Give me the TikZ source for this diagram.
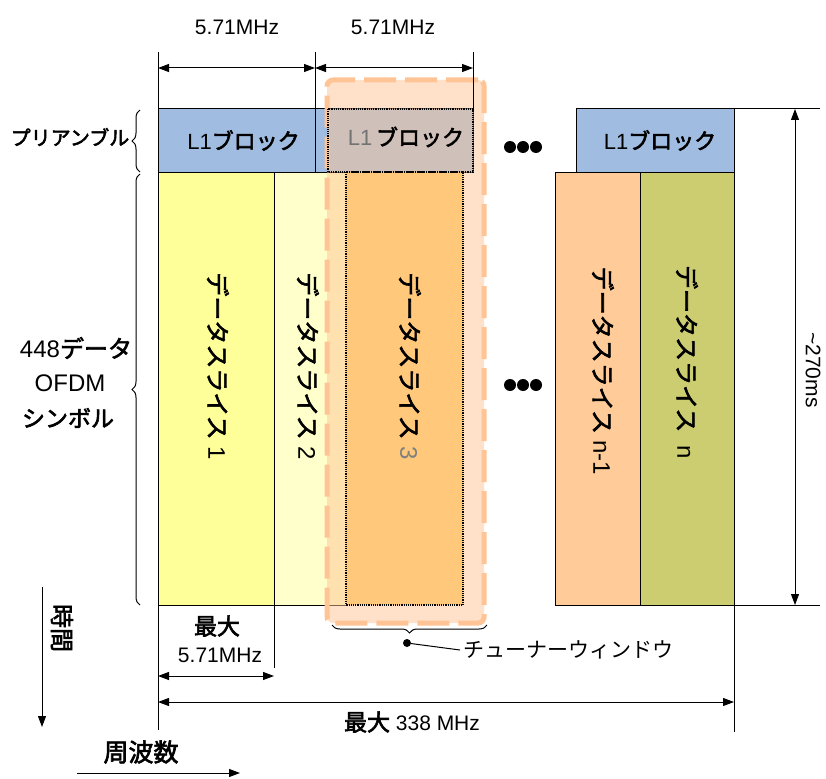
\documentclass[tikz,border=0pt]{standalone}
\usepackage{fontspec}
\setmainfont{Liberation Sans}
\newfontfamily\jp[AutoFakeBold=2.5]{Noto Sans CJK JP}
\usepackage{tikz}
\usetikzlibrary{positioning}
\usetikzlibrary{arrows.meta}
\usetikzlibrary{decorations.pathreplacing}
\definecolor{lblue}{RGB}{160,188,224}
\definecolor{yellowA}{RGB}{255,255,153}
\definecolor{yellowB}{RGB}{255,255,204}
\definecolor{orangeC}{RGB}{255,200,122}
\definecolor{peach}{RGB}{255,204,153}
\definecolor{olive}{RGB}{204,204,112}
\definecolor{tunercol}{RGB}{255,196,150}
\tikzset {
  x=1pt, y=-1pt,
  % plain boxes, placed by their top left corner
  box/.style = {draw, line width=1pt, inner sep=0pt, outer sep=0pt, anchor=north west},
  % L1 blocks in the preamble row
  lblock/.style = {box, fill=lblue, font=\fontsize{22}{22}\selectfont},
  % data slices
  slice/.style = {box, minimum height=433pt},
  % tuner window overlay
  tuner/.style = {box, draw=tunercol, line width=5pt, dash pattern=on 32pt off 9pt,
                  rounded corners=6pt, fill=tunercol, fill opacity=0.5},
  dotline/.style = {line width=1.2pt, densely dotted},
  % rotated slice labels
  vlabel/.style = {rotate=-90, font=\fontsize{24}{24}\selectfont},
  num/.style = {font=\fontsize{21}{21}\selectfont},
  jlabel/.style = {font=\jp\bfseries\fontsize{21}{21}\selectfont},
  guide/.style = {line width=1pt},
  dim/.style = {line width=1pt, {Triangle[length=11pt,width=8pt]}-{Triangle[length=11pt,width=8pt]}},
  onearrow/.style = {line width=1pt, -{Triangle[length=11pt,width=8pt]}},
  brace/.style = {decorate, decoration={brace, amplitude=8pt}, line width=1pt},
}
\begin{document}
\begin{tikzpicture}
      \fill[white] (0,0) rectangle (826,778);
      \useasboundingbox (0,0) rectangle (826,778);

      % data slices
      \node[slice, fill=yellowA, minimum width=116pt] (s1) at (158,172) {};
      \node[slice, fill=yellowB, minimum width=72pt]  (s2) at (274,172) {};
      \node[slice, fill=peach,   minimum width=85pt]  (sn1) at (555,172) {};
      \node[slice, fill=olive,   minimum width=94pt]  (sn) at (640,172) {};

      % preamble row
      \node[lblock, minimum width=157pt, minimum height=63pt] (l1a) at (158,109) {\hspace{14pt}L1{\jp\bfseries ブロック}};
      \node[lblock, minimum width=158pt, minimum height=63pt] (l1b) at (315,109) {};
      \node[lblock, minimum width=158pt, minimum height=63pt] (l1n) at (576,109) {\hspace{10pt}L1{\jp\bfseries ブロック}};

      % tuner window
      \node[tuner, minimum width=157pt, minimum height=543pt] (win) at (327,80) {};
      \node[slice, fill=orangeC, draw=none, minimum width=117pt] (s3) at (346,172) {};
      \draw[dotline] (s3.north west) rectangle (s3.south east);
      \draw[dotline] (328,109) rectangle (l1b.south east);
      \node[font=\fontsize{22}{22}\selectfont] (l1btext) at (406,137) {{\color{black!55}L1}\,{\jp\bfseries ブロック}};

      % slice labels
      \node[vlabel] (t1) at (218,366) {{\jp\bfseries データスライス}\ 1};
      \node[vlabel] (t2) at (308,366) {{\jp\bfseries データスライス}\ 2};
      \node[vlabel] (t3) at (410,366) {{\jp\bfseries データスライス}\ {\color{black!50}3}};
      \node[vlabel] (tn1) at (603,371) {{\jp\bfseries データスライス}\ n-1};
      \node[vlabel] (tn) at (687,362) {{\jp\bfseries データスライス}\ \ n};

      % dots between slices
      \foreach \yy in {147,385}
        \foreach \dx in {-13,0,13}
          \fill (523+\dx,\yy) circle (6pt);

      % top dimensions
      \coordinate (ta) at (158,52);
      \coordinate (tb) at (315,52);
      \coordinate (tc) at (473,52);
      \coordinate (ba) at (158,730);
      \draw[guide] (ta) -- (ba);
      \draw[guide] (tb) -- (l1a.north east);
      \draw[guide] (tc) -- (l1b.north east);
      \draw[dim] ([yshift=-16pt]ta) -- ([yshift=-16pt]tb);
      \draw[dim] ([yshift=-16pt]tb) -- ([yshift=-16pt]tc);
      \node[num] (w1) at (237,27) {5.71MHz};
      \node[num] (w2) at (393,27) {5.71MHz};

      % bottom dimensions
      \draw[guide] (s1.south east) -- ++(0,63);
      \draw[guide] (sn.south east) -- ++(0,127);
      \draw[dim] ([yshift=-71pt]s1.south west) -- ([yshift=-71pt]s1.south east);
      \draw[dim] ([yshift=-97pt]s1.south west) -- ([yshift=-97pt]sn.south east);
      \node[jlabel, font=\jp\bfseries\fontsize{23}{23}\selectfont] (max1) at (217,626) {最大};
      \node[num] (w3) at (220,655) {5.71MHz};
      \node[num] (wall) at (412,722) {{\jp\bfseries\fontsize{23}{23}\selectfont 最大}\ 338 MHz};

      % right dimension
      \draw[guide] (l1n.north east) -- ++(86,0);
      \draw[guide] (sn.south east) -- ++(86,0);
      \draw[dim] ([xshift=61pt]l1n.north east) -- ([xshift=61pt]sn.south east);
      \node[num, rotate=-90] (dur) at (813,370) {\textasciitilde270ms};

      % braces on the left
      \draw[brace] (l1a.south west) ++(-18,0) -- ++(0,-62);
      \draw[brace] (s1.south west) ++(-18,0) -- ++(0,-431);
      \node[jlabel, font=\jp\bfseries\fontsize{20}{20}\selectfont] (pre) at (70,137) {プリアンブル};
      \node[num, font=\fontsize{24}{24}\selectfont] (sym1) at (76,348) {448{\jp\bfseries データ}};
      \node[num, font=\fontsize{24}{24}\selectfont] (sym2) at (70,383) {OFDM};
      \node[jlabel, font=\jp\bfseries\fontsize{23}{23}\selectfont] (sym3) at (68,418) {シンボル};

      % tuner window brace
      \draw[brace] ([xshift=3pt,yshift=-2pt]win.south east) -- ([xshift=5pt,yshift=-2pt]win.south west);
      \node[circle, fill, inner sep=0pt, minimum size=8pt] (tdot) at (407,643) {};
      \node[anchor=west, font=\jp\fontsize{21}{21}\selectfont] (twin) at (460,650) {チューナーウィンドウ};
      \draw[guide] (tdot) -- (twin.west);

      % time and frequency axes
      \coordinate (tm0) at (42,587);
      \coordinate (tm1) at (42,727);
      \coordinate (fq0) at (77,773);
      \coordinate (fq1) at (240,773);
      \draw[onearrow] (tm0) -- (tm1);
      \draw[onearrow] (fq0) -- (fq1);
      \node[jlabel, rotate=-90, font=\jp\bfseries\fontsize{24}{24}\selectfont] (time) at (62,628) {時間};
      \node[jlabel, font=\jp\bfseries\fontsize{25}{25}\selectfont] (freq) at (141,752) {周波数};
\end{tikzpicture}
\end{document}
